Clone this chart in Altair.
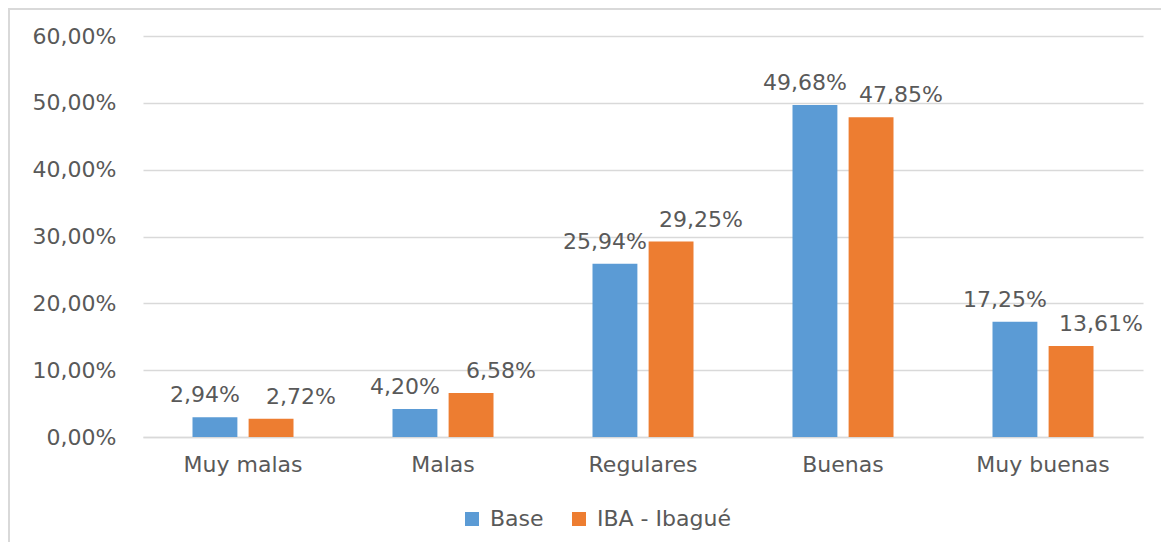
import altair as alt
import pandas as pd

categories = ["Muy malas", "Malas", "Regulares", "Buenas", "Muy buenas"]
series = ["Base", "IBA - Ibagué"]
base_values = [2.94, 4.20, 25.94, 49.68, 17.25]
iba_values = [2.72, 6.58, 29.25, 47.85, 13.61]
y_ticks = [0, 10, 20, 30, 40, 50, 60]
colors = ["#5B9BD5", "#ED7D31"]

rows = []
for c, b, i in zip(categories, base_values, iba_values):
    rows.append({"cat": c, "serie": series[0], "val": b})
    rows.append({"cat": c, "serie": series[1], "val": i})
df = pd.DataFrame(rows)
df["label"] = df["val"].map(lambda v: f"{v:.2f}".replace(".", ",") + "%")

FONT = "DejaVu Sans"
TXT = "#595959"
GRID = "#D9D9D9"
FS = 22

x = alt.X(
    "cat:N", sort=categories, title=None,
    scale=alt.Scale(paddingInner=0.495, paddingOuter=0.2475),
    axis=alt.Axis(labelAngle=0, labelFontSize=FS, labelColor=TXT, labelFont=FONT,
                  labelPadding=17, ticks=False, domainColor=GRID, domainWidth=1.5),
)
xo = alt.XOffset("serie:N", sort=series, scale=alt.Scale(paddingInner=0.2, paddingOuter=0))
y = alt.Y(
    "val:Q", title=None, scale=alt.Scale(domain=[0, 60], nice=False),
    axis=alt.Axis(values=y_ticks, labelExpr="replace(format(datum.value, '.2f'), '.', ',') + '%'",
                  labelFontSize=FS, labelColor=TXT, labelFont=FONT, labelPadding=27,
                  ticks=False, domain=False, grid=True, gridColor=GRID, gridWidth=1.5),
)
color = alt.Color(
    "serie:N", sort=series, scale=alt.Scale(domain=series, range=colors),
    legend=alt.Legend(title=None, orient="none", legendX=318, legendY=472, direction="horizontal",
                      symbolType="square", symbolSize=196, symbolStrokeWidth=0,
                      labelFontSize=FS, labelFont=FONT, labelColor=TXT, labelOffset=7,
                      columnPadding=24),
)

base = alt.Chart(df)
bars = base.mark_bar().encode(x=x, xOffset=xo, y=y, color=color)

def labels(name, dx):
    return base.transform_filter(alt.datum.serie == name).mark_text(
        dx=dx, dy=-15, baseline="alphabetic", fontSize=FS, font=FONT, color=TXT
    ).encode(x=x, xOffset=xo, y=y, text="label:N")

frame_df = pd.DataFrame({"a": [0]})
top_line = alt.Chart(frame_df).mark_rule(color=GRID, strokeWidth=2).encode(
    x=alt.value(-135), x2=alt.value(1018), y=alt.value(-27))
left_line = alt.Chart(frame_df).mark_rule(color=GRID, strokeWidth=2).encode(
    x=alt.value(-134), y=alt.value(-27), y2=alt.value(506))

chart = alt.layer(bars, labels(series[0], -10), labels(series[1], 30), top_line, left_line).properties(
    width=1000, height=401,
    autosize=alt.AutoSizeParams(type="none"),
    padding={"left": 135, "top": 28, "right": 18, "bottom": 105},
).configure_view(stroke=None)

chart.save("out.html", embed_options={"renderer": "svg", "actions": False})
